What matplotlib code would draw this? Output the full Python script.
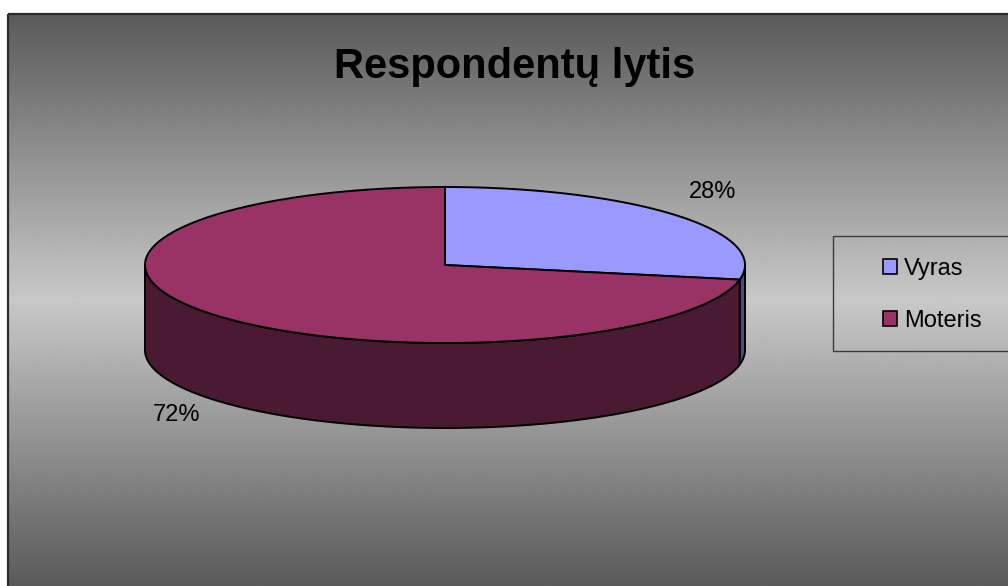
import numpy as np
import matplotlib
matplotlib.use("Agg")
import matplotlib.pyplot as plt
from matplotlib.patches import Polygon, Rectangle, Patch

plt.rcParams['font.family'] = ['Liberation Sans', 'DejaVu Sans']

# Data
categories = ["Vyras", "Moteris"]
values = [28, 72]
title = "Respondentų lytis"

top_colors = ["#9999FF", "#993366"]
side_colors = ["#4C4C80", "#4A1A33"]

W, H = 1008, 586
fig = plt.figure(figsize=(W / 100, H / 100), dpi=100, facecolor="white")
ax = fig.add_axes([0, 0, 1, 1])
ax.set_xlim(0, W)
ax.set_ylim(H, 0)
ax.axis("off")

# Chart area: vertical gradient, dark at the edges, light in the middle
x0, y0 = 8, 14
ys = np.arange(y0, H + 1)
shade = (200 - 110 * np.abs(ys - 300) / 286.0) / 255.0
grad = np.repeat(shade[:, None], 2, axis=1)
ax.imshow(grad, cmap="gray", vmin=0, vmax=1, aspect="auto",
          extent=(x0, W + 10, H + 1, y0), interpolation="bilinear", zorder=0)
ax.add_patch(Rectangle((x0, y0), W + 20, H + 20, fill=False,
                       edgecolor="#2a2a2a", lw=1.6, zorder=1))

# 3D pie geometry
cx, cy = 445, 265
ra, rb = 300, 78
depth = 85


def pt(theta_deg, dz=0.0):
    t = np.radians(theta_deg)
    return cx + ra * np.cos(t), cy - rb * np.sin(t) + dz


total = float(sum(values))
bounds = [90.0]
for v in values:
    bounds.append(bounds[-1] - 360.0 * v / total)

edge_kw = dict(edgecolor="black", lw=1.4, joinstyle="round")

# Side walls (front half only: angles between -180 and 0)
for i in range(len(values)):
    a0, a1 = bounds[i], bounds[i + 1]
    s0, s1 = min(a0, 0.0), max(a1, -180.0)
    if s0 <= s1:
        continue
    th = np.linspace(s0, s1, 200)
    upper = [pt(t) for t in th]
    lower = [pt(t, depth) for t in th[::-1]]
    ax.add_patch(Polygon(upper + lower, closed=True,
                         facecolor=side_colors[i], zorder=3, **edge_kw))

# Top faces
for i in range(len(values)):
    a0, a1 = bounds[i], bounds[i + 1]
    th = np.linspace(a0, a1, 400)
    verts = [(cx, cy)] + [pt(t) for t in th]
    ax.add_patch(Polygon(verts, closed=True,
                         facecolor=top_colors[i], zorder=4, **edge_kw))

# Percentage labels
label_pos = [(713, 192), (176, 415)]
for v, (lx, ly) in zip(values, label_pos):
    ax.text(lx, ly, f"{v / total * 100:.0f}%", fontsize=17,
            ha="center", va="center", color="black", zorder=5)

# Title
ax.text(515, 67, title, fontsize=30, fontweight="bold",
        ha="center", va="center", color="black", zorder=5)

# Legend
ax.add_patch(Rectangle((833, 236), 200, 115, fill=False,
                       edgecolor="#3a3a3a", lw=1.0, zorder=5))
handles = [Patch(facecolor=c, edgecolor="black", lw=1.2) for c in top_colors]
leg = ax.legend(handles, categories, loc="upper left",
                bbox_to_anchor=(866 / W, 1 - 241 / H), frameon=False,
                fontsize=17, handlelength=0.6, handleheight=0.6,
                handletextpad=0.3, labelspacing=1.3, borderpad=0.2)
leg.set_zorder(6)

fig.savefig("out.png", dpi=100, facecolor="white")
